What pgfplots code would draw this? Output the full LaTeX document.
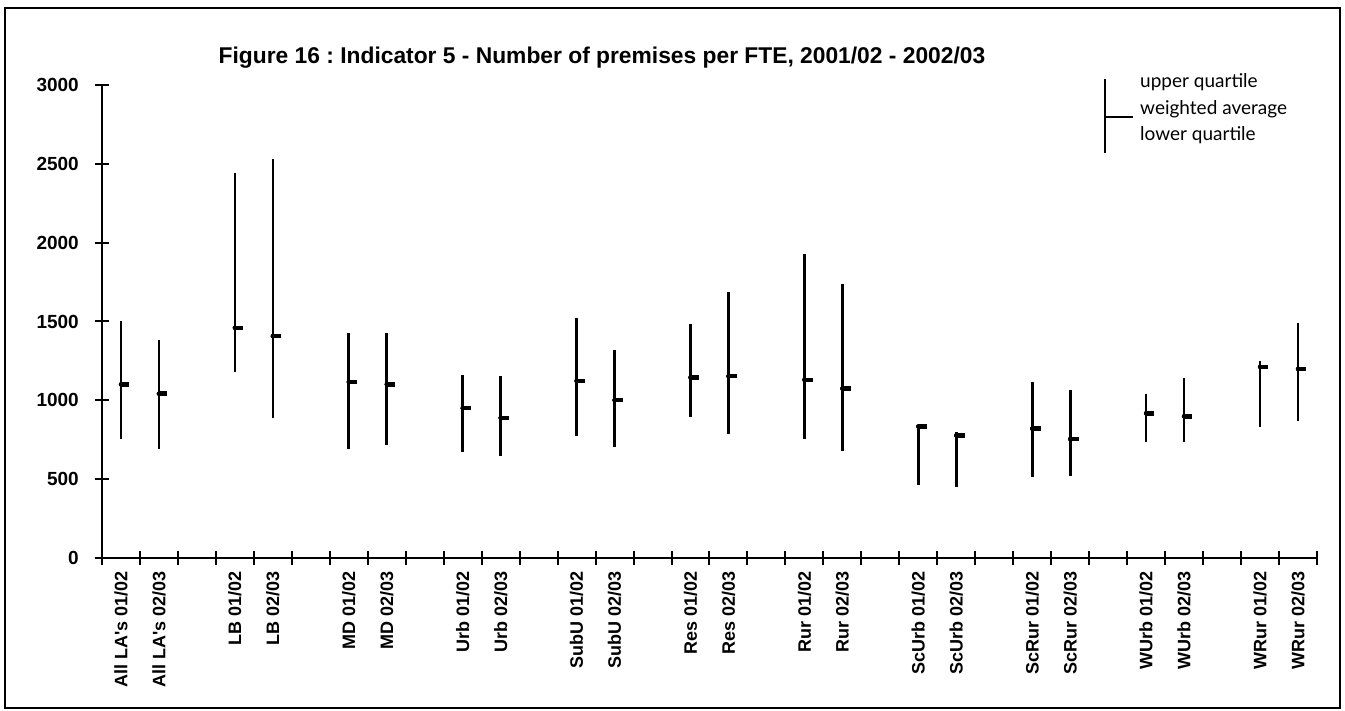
\documentclass[border=0pt]{standalone}
\usepackage{fontspec}
\setmainfont{Liberation Sans}
\newfontfamily\legfont{Lato}
\usepackage{pgfplots}
\pgfplotsset{compat=1.18}
\usepackage{pgfplotstable}
\frenchspacing

% x = slot centre, lo = lower quartile, avg = weighted average, hi = upper quartile
\pgfplotstableread{
x     lo    avg   hi
0.5   753   1101  1500
1.5   690   1042  1380
3.5   1179  1460  2441
4.5   890   1407  2532
6.5   694   1116  1424
7.5   717   1101  1428
9.5   671   950   1160
10.5  650   889   1157
12.5  775   1123  1521
13.5  707   1001  1320
15.5  893   1145  1481
16.5  787   1153  1688
18.5  754   1130  1927
19.5  680   1075  1737
21.5  464   834   845
22.5  449   777   796
24.5  513   821   1119
25.5  523   754   1064
27.5  735   918   1039
28.5  735   899   1142
30.5  834   1212  1248
31.5  870   1199  1489
}\quartiles

\begin{document}
\begin{tikzpicture}
\path[use as bounding box] (-102pt,-153pt) rectangle (1243pt,558pt);
\draw[line width=1.5pt] (-97pt,-150pt) rectangle (1238pt,550pt);
\begin{axis}[
    scale only axis,
    width=1215pt, height=473pt,
    xmin=0, xmax=32, ymin=0, ymax=3000,
    axis x line*=bottom, axis y line*=left,
    axis line style={line width=2.6pt},
    tick align=center,
    major tick length=14pt,
    every tick/.style={line width=2pt, black},
    xtick={0,...,32}, xticklabels={},
    ytick={0,500,...,3000},
    scaled ticks=false,
    /pgf/number format/1000 sep={},
    /pgf/number format/assume math mode=true,
    yticklabel style={font=\bfseries\fontsize{19}{19}\selectfont, inner sep=0pt},
    yticklabel shift={16pt},
    extra x ticks={0.5,1.5,3.5,4.5,6.5,7.5,9.5,10.5,12.5,13.5,15.5,16.5,18.5,19.5,21.5,22.5,24.5,25.5,27.5,28.5,30.5,31.5},
    extra x tick labels={All LA\textquotesingle s 01/02, All LA\textquotesingle s 02/03, LB 01/02, LB 02/03, MD 01/02, MD 02/03, Urb 01/02, Urb 02/03, SubU 01/02, SubU 02/03, Res 01/02, Res 02/03, Rur 01/02, Rur 02/03, ScUrb 01/02, ScUrb 02/03, ScRur 01/02, ScRur 02/03, WUrb 01/02, WUrb 02/03, WRur 01/02, WRur 02/03},
    extra x tick style={major tick length=0pt,
        xticklabel style={rotate=90, anchor=east, inner sep=0pt,
            font=\bfseries\fontsize{18}{18}\selectfont}},
    xticklabel shift={13pt},
    clip=false,
]
% quartile range
\addplot[only marks, mark=none,
    error bars/.cd, y dir=both, y explicit, error mark=none,
    error bar style={draw=black, line width=2.7pt}]
    table[x=x, y=avg,
          y error plus expr=\thisrow{hi}-\thisrow{avg},
          y error minus expr=\thisrow{avg}-\thisrow{lo}] {\quartiles};
% weighted average
\addplot[only marks, mark=none,
    error bars/.cd, x dir=plus, x fixed=0.22, error mark=none,
    error bar style={draw=black, line width=4.5pt}]
    table[x=x, y=avg] {\quartiles};
\end{axis}
% title
\node[font=\bfseries\fontsize{22.8}{22.8}\selectfont] at (500pt,500pt)
    {Figure 16 : Indicator 5 - Number of premises per FTE, 2001/02 - 2002/03};
% key
\draw[line width=1.5pt] (1003pt,479pt) -- (1003pt,405pt);
\draw[line width=1.5pt] (1003pt,441pt) -- (1031pt,441pt);
\begin{scope}[every node/.style={anchor=west, inner sep=0pt, font=\legfont\fontsize{19}{19}\selectfont}]
\node at (1038pt,476pt) {upper quartile};
\node at (1038pt,449pt) {weighted average};
\node at (1038pt,423pt) {lower quartile};
\end{scope}
\end{tikzpicture}
\end{document}
